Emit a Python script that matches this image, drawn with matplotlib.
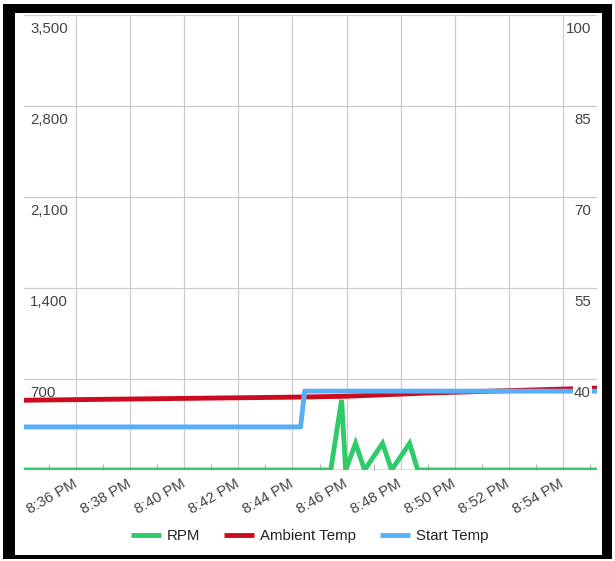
import datetime as dt

import matplotlib
matplotlib.use("Agg")
import matplotlib.pyplot as plt
import matplotlib.transforms as mtrans
from matplotlib.lines import Line2D
from matplotlib.patches import Rectangle

plt.rcParams["font.family"] = ["Liberation Sans", "DejaVu Sans"]

DAY = "2020-01-01 "

# RPM readings (left axis)
rpm_times = ["20:34:04", "20:45:25", "20:45:49", "20:45:58", "20:46:20", "20:46:40",
             "20:47:20", "20:47:40", "20:48:20", "20:48:38", "20:55:16"]
rpm_values = [0, 0, 540, 0, 205, 0, 205, 0, 205, 0, 0]

# Ambient temperature (right axis)
ambient_times = ["20:34:04", "20:43:53", "20:45:58", "20:49:04", "20:55:16"]
ambient_values = [36.5, 37.0, 37.15, 37.7, 38.5]

# Start temperature (right axis)
start_times = ["20:34:04", "20:44:18", "20:44:27", "20:55:16"]
start_values = [32.1, 32.1, 38.0, 38.0]

rpm_ticks = [700, 1400, 2100, 2800, 3500]
rpm_tick_labels = ["700", "1,400", "2,100", "2,800", "3,500"]
temp_ticks = [40, 55, 70, 85, 100]
temp_tick_labels = ["40", "55", "70", "85", "100"]

x_tick_times = ["20:36", "20:38", "20:40", "20:42", "20:44",
                "20:46", "20:48", "20:50", "20:52", "20:54"]
x_tick_labels = ["8:36 PM", "8:38 PM", "8:40 PM", "8:42 PM", "8:44 PM",
                 "8:46 PM", "8:48 PM", "8:50 PM", "8:52 PM", "8:54 PM"]
x_minor_times = ["20:35", "20:37", "20:39", "20:41", "20:43", "20:45",
                 "20:47", "20:49", "20:51", "20:53", "20:55"]

series_names = ["RPM", "Ambient Temp", "Start Temp"]
series_colors = ["#2fca6a", "#cc0b1f", "#5aaef5"]


def parse(times, fmt="%H:%M:%S"):
    return [dt.datetime.strptime(DAY + t, "%Y-%m-%d " + fmt) for t in times]


W, H = 615, 561
fig = plt.figure(figsize=(W / 100, H / 100), dpi=100, facecolor="white")

# black frame around the chart
fig.patches.append(Rectangle((3 / W, 1 - 559 / H), 609 / W, 555 / H,
                             transform=fig.transFigure, facecolor="black",
                             edgecolor="none", zorder=-2))
fig.patches.append(Rectangle((15 / W, 1 - 555 / H), 587 / W, 542 / H,
                             transform=fig.transFigure, facecolor="white",
                             edgecolor="none", zorder=-1))

left, right, top, bottom = 24, 597, 15, 470
ax = fig.add_axes([left / W, 1 - bottom / H, (right - left) / W, (bottom - top) / H])
ax2 = ax.twinx()
ax2.patch.set_visible(False)

xmin = parse(["20:34:04"])[0]
xmax = parse(["20:55:16"])[0]
ax.set_xlim(xmin, xmax)
ax.set_ylim(0, 3500)
ax2.set_ylim(25, 100)

for a in (ax, ax2):
    for s in a.spines.values():
        s.set_visible(False)
    a.tick_params(axis="y", which="both", length=0, labelleft=False, labelright=False)

grid_color = "#cccccc"
ax.set_yticks([0] + rpm_ticks)
ax.yaxis.grid(True, color=grid_color, linewidth=0.9)
ax.set_xticks(parse(x_tick_times, "%H:%M"), x_tick_labels, rotation=30,
              ha="right", va="center", rotation_mode="anchor")
ax.set_xticks(parse(x_minor_times, "%H:%M"), minor=True)
ax.xaxis.grid(True, which="major", color=grid_color, linewidth=0.9)
ax.set_axisbelow(True)
ax.tick_params(axis="x", which="major", length=0, pad=9, labelsize=10.8,
               labelcolor="#444444")
ax.tick_params(axis="x", which="minor", direction="in", length=4.5,
               width=0.8, color="#b0b0b0")

# zero baseline
ax.axhline(0, color="#333333", linewidth=0.9, zorder=1.5)

lw = 3.5
ax.plot(parse(rpm_times), rpm_values, color=series_colors[0], linewidth=lw,
        solid_joinstyle="miter", zorder=2)
ax2.plot(parse(ambient_times), ambient_values, color=series_colors[1],
         linewidth=lw, zorder=2)
ax2.plot(parse(start_times), start_values, color=series_colors[2],
         linewidth=lw, zorder=3)

# axis values drawn inside the plot area, just under each gridline
text_color = "#444444"
left_tf = mtrans.offset_copy(mtrans.blended_transform_factory(ax.transAxes, ax.transData),
                             fig=fig, x=6, y=-14, units="dots")
right_tf = mtrans.offset_copy(mtrans.blended_transform_factory(ax2.transAxes, ax2.transData),
                              fig=fig, x=-6, y=-14, units="dots")
for v, lab in zip(rpm_ticks, rpm_tick_labels):
    ax2.text(0, v, lab, transform=left_tf, ha="left", va="center",
             fontsize=10.8, color=text_color, zorder=5)
for v, lab in zip(temp_ticks, temp_tick_labels):
    ax2.text(1, v, lab, transform=right_tf, ha="right", va="center",
             fontsize=10.8, color=text_color, zorder=5,
             bbox=dict(facecolor="white", edgecolor="none", pad=1))

handles = [Line2D([], [], color=c, linewidth=lw, solid_capstyle="butt")
           for c in series_colors]
fig.legend(handles, series_names, loc="center", ncol=3,
           bbox_to_anchor=(310 / W, 1 - 536 / H), frameon=False,
           fontsize=10.8, labelcolor="#222222", handlelength=2.0,
           handletextpad=0.4, columnspacing=1.6)

fig.savefig("out.png", dpi=100, facecolor="white")
